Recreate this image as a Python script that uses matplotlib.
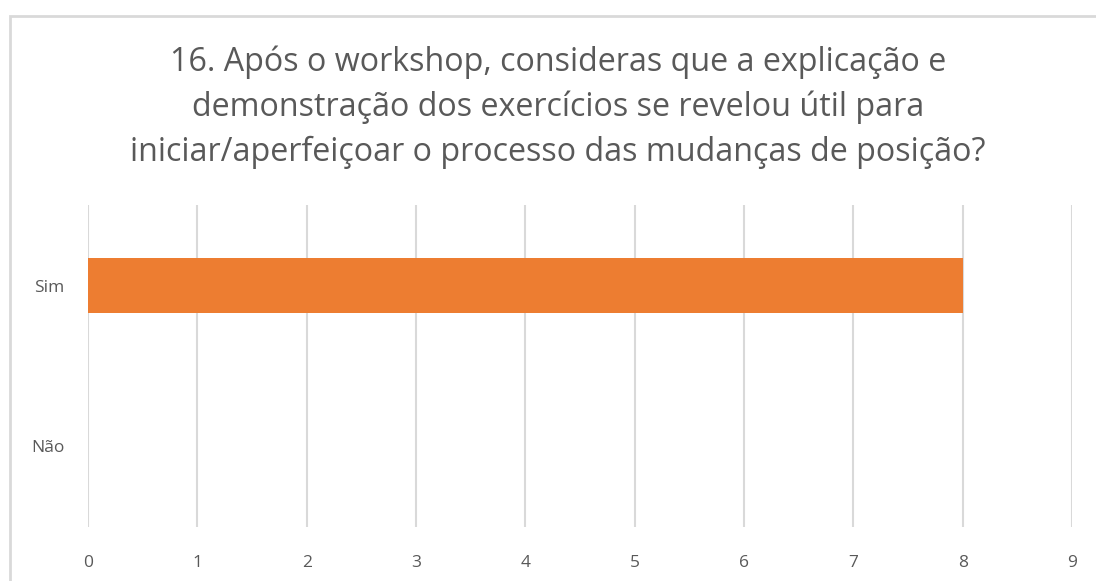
import matplotlib
matplotlib.use("Agg")
import matplotlib.pyplot as plt
from matplotlib.patches import Rectangle

categorias = ["Sim", "Não"]
respostas = [8, 0]
marcas_x = [0, 1, 2, 3, 4, 5, 6, 7, 8, 9]
titulo = ("16. Após o workshop, consideras que a explicação e\n"
          "demonstração dos exercícios se revelou útil para\n"
          "iniciar/aperfeiçoar o processo das mudanças de posição?")

plt.rcParams['font.family'] = ['Open Sans', 'DejaVu Sans']

fig = plt.figure(figsize=(10.96, 5.81), dpi=100)

# moldura do gráfico
moldura = Rectangle((10/1096, -0.1), 1.2, 1 - 16/581 + 0.1, transform=fig.transFigure,
                    fill=False, edgecolor='#d9d9d9', linewidth=2)
fig.patches.append(moldura)

ax = fig.add_axes([88/1096, 1 - 527/581, (1072 - 88)/1096, (527 - 205)/581])

pos = list(range(len(categorias)))
ax.barh(pos, respostas, height=0.34, color='#ED7D31', zorder=3)

ax.set_xlim(0, 9)
ax.set_ylim(1.5, -0.5)
ax.set_xticks(marcas_x)
ax.set_yticks(pos)
ax.set_yticklabels(categorias)
ax.grid(axis='x', color='#d9d9d9', linewidth=1.5, zorder=0)
for s in ax.spines.values():
    s.set_visible(False)
ax.tick_params(length=0, labelsize=12.5, colors='#595959')
ax.tick_params(axis='y', pad=17)
ax.tick_params(axis='x', pad=20)

fig.text(558/1096, 1 - 107/581, titulo, ha='center', va='center', fontsize=23.2,
         color='#595959', linespacing=1.45)

fig.savefig("out.png", dpi=100)
